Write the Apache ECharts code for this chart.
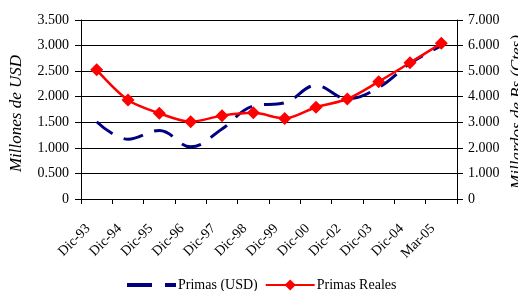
<!DOCTYPE html>
<html><head><meta charset="utf-8">
<script src="https://cdn.jsdelivr.net/npm/echarts@6/dist/echarts.min.js"></script>
<style>html,body{margin:0;padding:0;background:#fff}#c{width:518px;height:291px}</style>
</head><body><div id="c"></div>
<script>
var categories = ['Dic-93','Dic-94','Dic-95','Dic-96','Dic-97','Dic-98','Dic-99','Dic-00','Dic-02','Dic-03','Dic-04','Mar-05'];
var primasUSD = [1510, 1170, 1340, 1020, 1370, 1820, 1880, 2220, 1960, 2180, 2650, 3000];
var primasReales = [5050, 3870, 3350, 3020, 3260, 3370, 3150, 3590, 3910, 4590, 5330, 6090];
var leftTicks = [0, 500, 1000, 1500, 2000, 2500, 3000, 3500];
var rightTicks = [0, 1000, 2000, 3000, 4000, 5000, 6000, 7000];
var leftTitle = 'Millones de USD';
var rightTitle = 'Millardos de Bs (Ctes)';

function fmt(v){ return v === 0 ? '0' : (v/1000).toFixed(3); }
var font = 'Liberation Serif';
var chart = echarts.init(document.getElementById('c'));
chart.setOption({
  animation: false,
  grid: {left: 76, right: 61, top: 20, bottom: 92},
  graphic: [{
    type: 'text', x: 518, y: 112, rotation: Math.PI / 2,
    style: {text: rightTitle, font: 'italic 17px "Liberation Serif"', fill: '#000',
            textAlign: 'center', textVerticalAlign: 'middle'}
  }],
  legend: {
    top: 278, left: 125, padding: 0, itemGap: 7, itemWidth: 49, itemHeight: 14,
    textStyle: {fontFamily: font, fontSize: 14, color: '#000', padding: [0, 0, 0, -3]},
    data: [
      {name: 'Primas (USD)', itemStyle: {opacity: 0}, lineStyle: {width: 4, type: [25, 13]}},
      {name: 'Primas Reales'}
    ]
  },
  xAxis: {
    type: 'category', data: categories, boundaryGap: true,
    axisLine: {lineStyle: {color: '#000'}},
    axisTick: {show: true, length: 5, lineStyle: {color: '#000'}},
    axisLabel: {rotate: 45, fontFamily: font, fontSize: 14, color: '#000', margin: 19, padding: [0, 12, 0, 0]}
  },
  yAxis: [{
    type: 'value', min: leftTicks[0], max: leftTicks[leftTicks.length-1], interval: 500,
    name: leftTitle, nameLocation: 'middle', nameGap: 56,
    nameTextStyle: {fontFamily: font, fontSize: 17, fontStyle: 'italic', color: '#000', padding: [0, 8, 0, 0]},
    axisLine: {show: true, lineStyle: {color: '#000'}},
    axisTick: {show: true, length: 6, lineStyle: {color: '#000'}},
    axisLabel: {formatter: fmt, fontFamily: font, fontSize: 14, color: '#000', margin: 12},
    splitLine: {lineStyle: {color: '#000', width: 1}}
  }, {
    type: 'value', min: rightTicks[0], max: rightTicks[rightTicks.length-1], interval: 1000,
    axisLine: {show: true, lineStyle: {color: '#000'}},
    axisTick: {show: true, length: 6, lineStyle: {color: '#000'}},
    axisLabel: {formatter: fmt, fontFamily: font, fontSize: 14, color: '#000', margin: 11},
    splitLine: {show: false}
  }],
  series: [{
    name: 'Primas (USD)', type: 'line', yAxisIndex: 0, data: primasUSD,
    smooth: 0.4, symbol: 'none', color: '#000080',
    lineStyle: {color: '#000080', width: 3, type: [20, 12]}
  }, {
    name: 'Primas Reales', type: 'line', yAxisIndex: 1, data: primasReales,
    smooth: 0.3, symbol: 'diamond', symbolSize: 13, color: '#ff0000',
    itemStyle: {color: '#ff0000'},
    lineStyle: {color: '#ff0000', width: 2.5}
  }]
});
</script></body></html>
